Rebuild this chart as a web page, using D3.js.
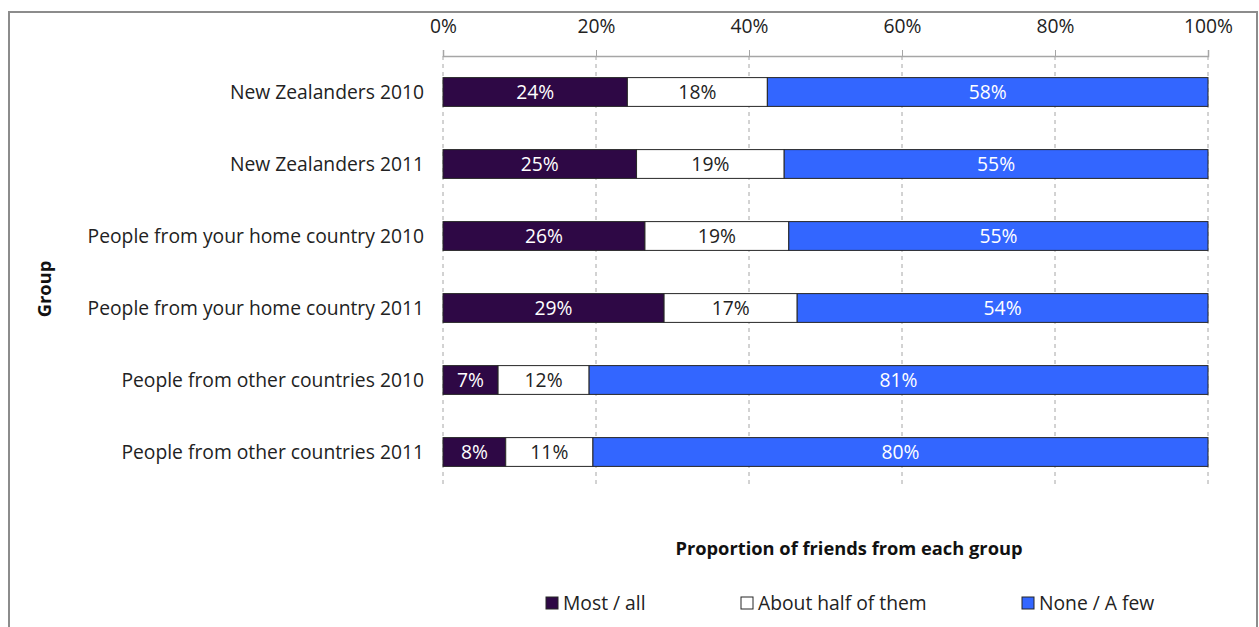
<!DOCTYPE html>
<html><head><meta charset="utf-8">
<script src="https://cdn.jsdelivr.net/npm/d3@7"></script>
<style>
body{margin:0;background:#fff;}
text{font-family:"Open Sans","Noto Sans",sans-serif;}
</style></head>
<body><svg id="chart" width="1259" height="627"></svg>
<script>
const categories = ["New Zealanders 2010","New Zealanders 2011","People from your home country 2010","People from your home country 2011","People from other countries 2010","People from other countries 2011"];
const seriesNames = ["Most / all","About half of them","None / A few"];
const mostAll   = [24.1, 25.3, 26.4, 28.9, 7.2, 8.2];
const aboutHalf = [18.3, 19.3, 18.8, 17.4, 11.9, 11.4];
const noneFew   = [57.6, 55.4, 54.8, 53.7, 80.9, 80.4];
const tickValues = [0,20,40,60,80,100];
const colors = ["#2e0845","#ffffff","#3366ff"];
const labelColors = ["#ffffff","#222222","#ffffff"];

const svg = d3.select("#chart");
const W = 1259, H = 627;
const fs = 19.3;

// border
svg.append("rect").attr("x",9).attr("y",12).attr("width",1248).attr("height",H).attr("fill","none").attr("stroke","#8c8c8c").attr("stroke-width",2);

const x = d3.scaleLinear().domain([0,100]).range([443,1208]);
const y = d3.scaleBand().domain(categories).range([56,488]).paddingInner(0.6).paddingOuter(0.3);

// gridlines
svg.append("g").selectAll("line").data(tickValues).join("line")
  .attr("x1",d=>x(d)).attr("x2",d=>x(d)).attr("y1",56).attr("y2",488)
  .attr("stroke","#a6a6a6").attr("stroke-width",1).attr("stroke-dasharray","4,4");

// top axis
const axis = d3.axisTop(x).tickValues(tickValues).tickFormat(d=>d+"%").tickSize(6).tickPadding(17);
const ag = svg.append("g").attr("transform","translate(0,56)").call(axis);
ag.select(".domain").attr("stroke","#a6a6a6").attr("stroke-width",1.5);
ag.selectAll(".tick line").attr("stroke","#a6a6a6");
ag.selectAll(".tick text").attr("font-size",fs).attr("fill","#222").attr("font-family","'Open Sans',sans-serif");

// stacked data
const rows = categories.map((c,i)=>({cat:c, s0:mostAll[i], s1:aboutHalf[i], s2:noneFew[i]}));
const stack = d3.stack().keys(["s0","s1","s2"])(rows);

stack.forEach((layer,k)=>{
  const g = svg.append("g");
  g.selectAll("rect").data(layer).join("rect")
    .attr("x",d=>x(d[0])).attr("width",d=>x(d[1])-x(d[0]))
    .attr("y",d=>y(d.data.cat)).attr("height",y.bandwidth())
    .attr("fill",colors[k]).attr("stroke","#262626").attr("stroke-width",1);
  g.selectAll("text").data(layer).join("text")
    .attr("x",d=>(x(d[0])+x(d[1]))/2).attr("y",d=>y(d.data.cat)+y.bandwidth()/2)
    .attr("dy","0.35em").attr("text-anchor","middle").attr("font-size",fs)
    .attr("fill",labelColors[k])
    .text(d=>Math.round(d[1]-d[0])+"%");
});

// category labels
svg.append("g").selectAll("text").data(categories).join("text")
  .attr("x",424).attr("y",d=>y(d)+y.bandwidth()/2).attr("dy","0.35em")
  .attr("text-anchor","end").attr("font-size",fs).attr("fill","#222").text(d=>d);

// axis titles
svg.append("text").attr("x",849).attr("y",555).attr("text-anchor","middle")
  .attr("font-size",18.3).attr("font-weight","bold").attr("fill","#111").text("Proportion of friends from each group");
svg.append("text").attr("transform","translate(51,289) rotate(-90)").attr("text-anchor","middle")
  .attr("font-size",18.3).attr("font-weight","bold").attr("fill","#111").text("Group");

// legend
const legX = [546,741,1022];
const lg = svg.append("g").selectAll("g").data(seriesNames).join("g")
  .attr("transform",(d,i)=>`translate(${legX[i]},603)`);
lg.append("rect").attr("x",0).attr("y",-6).attr("width",12).attr("height",12)
  .attr("fill",(d,i)=>colors[i]).attr("stroke","#262626").attr("stroke-width",1);
lg.append("text").attr("x",17).attr("dy","0.35em").attr("font-size",fs).attr("fill","#222").text(d=>d);
</script></body></html>
